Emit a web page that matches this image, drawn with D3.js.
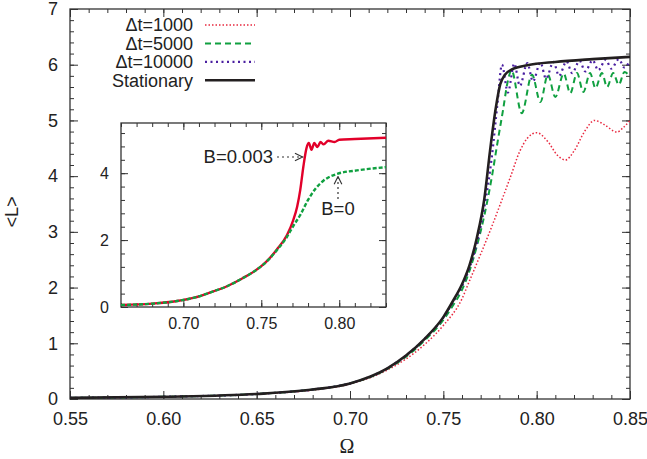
<!DOCTYPE html>
<html>
<head>
<meta charset="utf-8">
<script src="https://cdn.jsdelivr.net/npm/d3@7"></script>
<style>
  body { margin: 0; background: #fff; }
  svg text { font-family: "Liberation Sans", Arial, sans-serif; fill: #222; }
  .axis path { display: none; }
  .axis line { stroke: #333; stroke-width: 1; }
</style>
</head>
<body>
<div class="g-chart"></div>
<script>
//Main chart data: omega values and <L> per series
var statOmega = [0.55,0.60,0.65,0.68,0.70,0.72,0.73,0.74,0.75,0.755,0.76,0.764,0.768,0.772,0.775,0.778,0.7805,0.783,0.787,0.795,0.81,0.83,0.85];
var statL     = [0.02,0.04,0.09,0.17,0.28,0.55,0.78,1.08,1.47,1.75,2.06,2.4,2.9,3.6,4.45,5.2,5.65,5.82,5.92,5.99,6.05,6.1,6.14];

var dt10000Omega = [0.55,0.60,0.65,0.68,0.70,0.72,0.73,0.74,0.75,0.755,0.76,0.764,0.768,0.772,0.776,0.779,0.7814,0.7846,0.788,0.791,0.795,0.798,0.802,0.805,0.809,0.812,0.816,0.819,0.823,0.826,0.830,0.833,0.837,0.840,0.844,0.847,0.85];
var dt10000L     = [0.02,0.04,0.09,0.17,0.28,0.55,0.78,1.08,1.46,1.73,2.03,2.35,2.8,3.45,4.35,5.3,6.0,5.5,6.02,5.62,6.03,5.7,6.04,5.75,6.05,5.8,6.06,5.85,6.07,5.88,6.08,5.9,6.09,5.93,6.1,5.95,6.08];

var dt5000Omega = [0.55,0.60,0.65,0.68,0.70,0.72,0.73,0.74,0.75,0.755,0.76,0.764,0.768,0.772,0.776,0.779,0.782,0.7845,0.7865,0.792,0.7975,0.802,0.806,0.810,0.8145,0.818,0.8216,0.825,0.8286,0.8315,0.835,0.8377,0.841,0.844,0.847,0.85];
var dt5000L     = [0.02,0.04,0.09,0.17,0.28,0.54,0.76,1.05,1.42,1.67,1.96,2.3,2.75,3.3,3.99,4.6,5.19,5.7,5.9,5.13,5.82,5.33,5.82,5.42,5.84,5.49,5.85,5.51,5.85,5.58,5.85,5.6,5.85,5.64,5.87,5.78];

var dt1000Omega = [0.55,0.60,0.65,0.68,0.70,0.72,0.74,0.75,0.76,0.764,0.77,0.776,0.782,0.786,0.791,0.795,0.800,0.806,0.811,0.8154,0.82,0.826,0.831,0.836,0.843,0.846,0.85];
var dt1000L     = [0.02,0.04,0.09,0.16,0.27,0.52,0.98,1.32,1.8,2.12,2.6,3.1,3.63,3.99,4.45,4.68,4.78,4.62,4.38,4.29,4.45,4.82,5.0,4.93,4.79,4.86,5.0];

//Inset data
var insetB0Omega = [0.66,0.68,0.696,0.707,0.717,0.728,0.738,0.745,0.75,0.755,0.76,0.7665,0.7705,0.775,0.780,0.785,0.79,0.798,0.8125,0.83];
var insetB0L     = [0.06,0.1,0.18,0.28,0.43,0.62,0.86,1.05,1.22,1.43,1.7,2.1,2.42,2.75,3.2,3.55,3.78,3.97,4.09,4.18];

var insetB3Omega = [0.66,0.68,0.696,0.707,0.717,0.728,0.738,0.745,0.75,0.755,0.76,0.7665,0.7705,0.773,0.775,0.777,0.779,0.7805,0.7822,0.784,0.786,0.788,0.790,0.793,0.797,0.80,0.81,0.83];
var insetB3L     = [0.06,0.1,0.18,0.28,0.43,0.62,0.86,1.05,1.22,1.44,1.72,2.15,2.6,3.0,3.5,4.2,4.75,4.9,4.7,4.9,4.78,4.93,4.86,4.97,4.93,5.0,5.02,5.06];

//Tick labels
var xTicks = [0.55,0.60,0.65,0.70,0.75,0.80,0.85];
var yTicks = [0,1,2,3,4,5,6,7];
var insetXTicks = [0.70,0.75,0.80];
var insetYTicks = [0,2,4];

//Legend
var legendLabels = ["\u0394t=1000","\u0394t=5000","\u0394t=10000","Stationary"];

//Margin conventions
var width = 647, height = 459;
var plot = {left: 70, right: 630, top: 9, bottom: 399};
var inset = {left: 121, right: 386, top: 123, bottom: 307};

var svg = d3.select(".g-chart").append("svg")
  .attr("width", width)
  .attr("height", height);

//Scales
var xScale = d3.scaleLinear().domain([0.55, 0.85]).range([plot.left, plot.right]);
var yScale = d3.scaleLinear().domain([0, 7]).range([plot.bottom, plot.top]);
var xIn = d3.scaleLinear().domain([0.66, 0.83]).range([inset.left, inset.right]);
var yIn = d3.scaleLinear().domain([0, 5.5]).range([inset.bottom, inset.top]);

//Draws inward ticks on all four sides of a box
function drawAxes(g, xs, ys, box, xMajor, yMajor, xMinor, yMinor, xFmt, yFmt, fontSize, majorLen, minorLen, xPad) {
  g.append("g").attr("class", "axis")
    .attr("transform", "translate(0," + box.bottom + ")")
    .call(d3.axisBottom(xs).tickValues(xMinor).tickFormat("").tickSize(-minorLen));
  g.append("g").attr("class", "axis")
    .attr("transform", "translate(0," + box.top + ")")
    .call(d3.axisTop(xs).tickValues(xMinor).tickFormat("").tickSize(-minorLen));
  g.append("g").attr("class", "axis")
    .attr("transform", "translate(" + box.left + ",0)")
    .call(d3.axisLeft(ys).tickValues(yMinor).tickFormat("").tickSize(-minorLen));
  g.append("g").attr("class", "axis")
    .attr("transform", "translate(" + box.right + ",0)")
    .call(d3.axisRight(ys).tickValues(yMinor).tickFormat("").tickSize(-minorLen));

  g.append("g").attr("class", "axis")
    .attr("transform", "translate(0," + box.bottom + ")")
    .call(d3.axisBottom(xs).tickValues(xMajor).tickFormat(xFmt).tickSize(-majorLen).tickPadding(xPad));
  g.append("g").attr("class", "axis")
    .attr("transform", "translate(0," + box.top + ")")
    .call(d3.axisTop(xs).tickValues(xMajor).tickFormat("").tickSize(-majorLen));
  g.append("g").attr("class", "axis")
    .attr("transform", "translate(" + box.left + ",0)")
    .call(d3.axisLeft(ys).tickValues(yMajor).tickFormat(yFmt).tickSize(-majorLen).tickPadding(12));
  g.append("g").attr("class", "axis")
    .attr("transform", "translate(" + box.right + ",0)")
    .call(d3.axisRight(ys).tickValues(yMajor).tickFormat("").tickSize(-majorLen));

  g.selectAll(".axis text")
    .style("font-family", "'Liberation Sans', Arial, sans-serif")
    .style("font-size", fontSize + "px")
    .style("fill", "#222");

  g.append("rect")
    .attr("x", box.left).attr("y", box.top)
    .attr("width", box.right - box.left).attr("height", box.bottom - box.top)
    .attr("fill", "none").attr("stroke", "#333").attr("stroke-width", 1.3);
}

//Main plot axes
var mainG = svg.append("g");
drawAxes(mainG, xScale, yScale, plot, xTicks, yTicks,
  d3.range(0.55, 0.8501, 0.01), d3.range(0, 7.001, 0.2),
  d3.format(".2f"), d3.format("d"), 18, 8, 4, 13);

//Line generator
function lineFor(xs, ys, om) {
  return d3.line()
    .x(function(d, i) { return xs(om[i]); })
    .y(function(d) { return ys(d); })
    .curve(d3.curveMonotoneX);
}

var series = [
  {om: dt1000Omega, L: dt1000L, color: "#e8283f", width: 1.5, dash: "1.5,2"},
  {om: dt5000Omega, L: dt5000L, color: "#10a040", width: 2, dash: "6,4"},
  {om: dt10000Omega, L: dt10000L, color: "#4a1fa0", width: 2.2, dash: "2,3.5"},
  {om: statOmega, L: statL, color: "#231f20", width: 2.6, dash: null}
];

svg.append("clipPath").attr("id", "clipMain").append("rect")
  .attr("x", plot.left).attr("y", plot.top)
  .attr("width", plot.right - plot.left).attr("height", plot.bottom - plot.top);

series.forEach(function(s) {
  svg.append("path")
    .datum(s.L)
    .attr("d", lineFor(xScale, yScale, s.om))
    .attr("fill", "none")
    .attr("stroke", s.color)
    .attr("stroke-width", s.width)
    .attr("stroke-dasharray", s.dash)
    .attr("clip-path", "url(#clipMain)");
});

//Legend
var legend = svg.append("g");
series.forEach(function(s, i) {
  var yy = 25 + i * 18.4;
  legend.append("text")
    .attr("x", 193).attr("y", yy)
    .attr("dy", "0.35em")
    .attr("text-anchor", "end")
    .style("font-size", "18px")
    .text(legendLabels[i]);
  legend.append("line")
    .attr("x1", 205).attr("x2", 255)
    .attr("y1", yy).attr("y2", yy)
    .attr("stroke", s.color)
    .attr("stroke-width", s.width)
    .attr("stroke-dasharray", s.dash);
});

//Axis titles
svg.append("text")
  .attr("transform", "translate(12,212) rotate(-90)")
  .attr("text-anchor", "middle")
  .attr("dy", "0.35em")
  .style("font-size", "18px")
  .text("<L>");

svg.append("text")
  .attr("x", (plot.left + plot.right) / 2 - 3)
  .attr("y", 453)
  .attr("text-anchor", "middle")
  .style("font-family", "'Liberation Serif', 'DejaVu Serif', serif")
  .style("font-size", "20px")
  .text("\u03A9");

//Inset
var insetG = svg.append("g");
insetG.append("rect")
  .attr("x", inset.left).attr("y", inset.top)
  .attr("width", inset.right - inset.left).attr("height", inset.bottom - inset.top)
  .attr("fill", "#fff");
drawAxes(insetG, xIn, yIn, inset, insetXTicks, insetYTicks,
  d3.range(0.66, 0.8301, 0.01), d3.range(0, 5.501, 0.4),
  d3.format(".2f"), d3.format("d"), 16, 7, 4, 11);

svg.append("clipPath").attr("id", "clipInset").append("rect")
  .attr("x", inset.left).attr("y", inset.top)
  .attr("width", inset.right - inset.left).attr("height", inset.bottom - inset.top);

insetG.append("path")
  .datum(insetB3L)
  .attr("d", lineFor(xIn, yIn, insetB3Omega))
  .attr("fill", "none")
  .attr("stroke", "#e2002a")
  .attr("stroke-width", 2.4)
  .attr("clip-path", "url(#clipInset)");

insetG.append("path")
  .datum(insetB0L)
  .attr("d", lineFor(xIn, yIn, insetB0Omega))
  .attr("fill", "none")
  .attr("stroke", "#10a040")
  .attr("stroke-width", 2.4)
  .attr("stroke-dasharray", "4,2")
  .attr("clip-path", "url(#clipInset)");

//Annotations
var defs = svg.append("defs");
defs.append("marker")
  .attr("id", "arrowHead")
  .attr("viewBox", "0 0 10 10")
  .attr("refX", 9).attr("refY", 5)
  .attr("markerWidth", 8).attr("markerHeight", 8)
  .attr("orient", "auto-start-reverse")
  .append("path")
  .attr("d", "M1,1 L9,5 L1,9")
  .attr("fill", "none")
  .attr("stroke", "#333")
  .attr("stroke-width", 1.2);

insetG.append("text")
  .attr("x", 273).attr("y", 157)
  .attr("dy", "0.35em")
  .attr("text-anchor", "end")
  .style("font-size", "18.5px")
  .text("B=0.003");

insetG.append("line")
  .attr("x1", 277).attr("y1", 157)
  .attr("x2", xIn(0.7765)).attr("y2", 157)
  .attr("stroke", "#333").attr("stroke-width", 1.2)
  .attr("stroke-dasharray", "2,3")
  .attr("marker-end", "url(#arrowHead)");

insetG.append("text")
  .attr("x", 338).attr("y", 209)
  .attr("dy", "0.35em")
  .attr("text-anchor", "middle")
  .style("font-size", "18.5px")
  .text("B=0");

insetG.append("line")
  .attr("x1", 338).attr("y1", 199)
  .attr("x2", 338).attr("y2", yIn(3.9))
  .attr("stroke", "#333").attr("stroke-width", 1.2)
  .attr("stroke-dasharray", "2,3")
  .attr("marker-end", "url(#arrowHead)");
</script>
</body>
</html>
